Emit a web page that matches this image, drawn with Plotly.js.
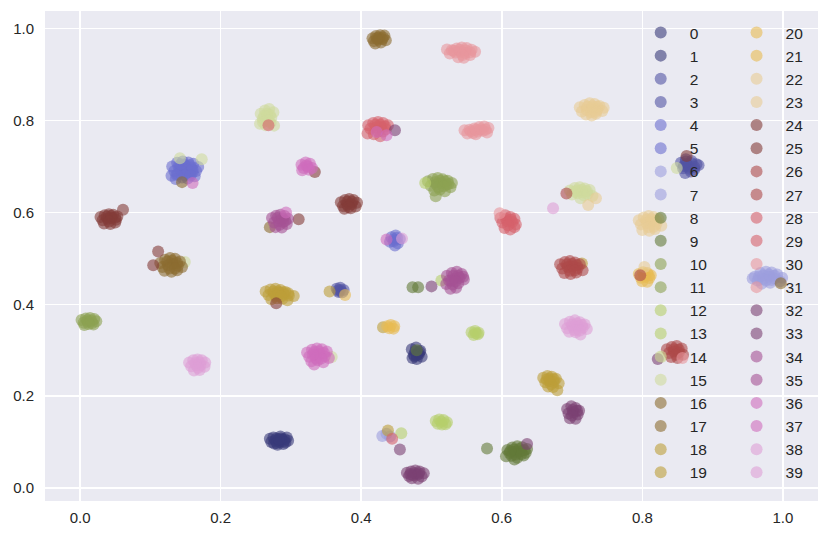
<!DOCTYPE html>
<html>
<head>
<meta charset="utf-8">
<script src="https://cdn.plot.ly/plotly-3.0.1.min.js"></script>
<style>html,body{margin:0;padding:0;background:#fff;}#chart{width:830px;height:539px;}</style>
</head>
<body>
<div id="chart"></div>
<script>
// tab20b palette, each colour used by two consecutive labels
const palette = ['#393b79','#5254a3','#6b6ecf','#9c9ede','#637939','#8ca252','#b5cf6b','#cedb9c',
                 '#8c6d31','#bd9e39','#e7ba52','#e7cb94','#843c39','#ad494a','#d6616b','#e7969c',
                 '#7b4173','#a55194','#ce6dbd','#de9ed6'];
const tickVals = [0.0, 0.2, 0.4, 0.6, 0.8, 1.0];
const tickText = ['0.0', '0.2', '0.4', '0.6', '0.8', '1.0'];

const X0 = [0.272,0.279,0.285,0.291,0.296,0.276,0.283,0.289,0.270,0.294,0.281,0.287,0.278,0.284,0.290,0.275,0.286,0.280,0.292,0.283];
const Y0 = [0.100,0.108,0.112,0.106,0.103,0.097,0.101,0.096,0.107,0.110,0.094,0.105,0.104,0.100,0.102,0.110,0.108,0.098,0.099,0.106];
const X1 = [0.472,0.478,0.484,0.475,0.481,0.486,0.473,0.479,0.477,0.482,0.476,0.483,0.479];
const Y1 = [0.302,0.306,0.299,0.290,0.294,0.286,0.283,0.281,0.298,0.291,0.287,0.296,0.289];
const X2 = [0.855,0.862,0.870,0.877,0.858,0.866,0.874,0.861,0.869,0.880,0.863,0.870,0.859,0.867,0.874,0.862];
const Y2 = [0.708,0.716,0.712,0.705,0.696,0.700,0.694,0.686,0.689,0.703,0.705,0.707,0.701,0.695,0.699,0.711];
const X3 = [0.365,0.370,0.375,0.368,0.373,0.370,0.367];
const Y3 = [0.434,0.436,0.431,0.427,0.426,0.431,0.430];
const X4 = [0.131,0.138,0.146,0.154,0.161,0.168,0.134,0.142,0.150,0.158,0.165,0.130,0.139,0.147,0.156,0.163,0.136,0.145,0.153,0.160,
            0.140,0.148,0.156,0.144,0.152,0.160,0.137,0.149,0.157,0.143];
const Y4 = [0.700,0.708,0.711,0.709,0.706,0.699,0.690,0.695,0.702,0.698,0.690,0.680,0.683,0.688,0.684,0.679,0.673,0.676,0.674,0.688,
            0.700,0.704,0.703,0.690,0.693,0.693,0.682,0.681,0.680,0.705];
const X5 = [0.443,0.449,0.455,0.446,0.452,0.441,0.448,0.447,0.451];
const Y5 = [0.546,0.550,0.542,0.537,0.533,0.536,0.528,0.541,0.545];
const X6 = [0.960,0.968,0.976,0.984,0.992,0.999,0.964,0.972,0.980,0.988,0.996,0.970,0.982,0.957,0.972,0.980,0.988,0.976,0.984,0.966];
const Y6 = [0.460,0.468,0.471,0.469,0.465,0.458,0.452,0.455,0.460,0.456,0.450,0.445,0.447,0.456,0.463,0.465,0.462,0.452,0.453,0.460];
const X7 = [0.430,0.436,0.441];
const Y7 = [0.113,0.118,0.112];
const X8 = [0.608,0.615,0.622,0.629,0.636,0.611,0.619,0.627,0.634,0.606,0.614,0.622,0.631,0.618,0.617,0.625,0.632,0.620,0.628,0.612];
const Y8 = [0.083,0.088,0.091,0.089,0.085,0.076,0.079,0.080,0.077,0.069,0.070,0.066,0.071,0.062,0.084,0.085,0.082,0.073,0.074,0.080];
const X9 = [0.473,0.481,0.579,0.479];
const Y9 = [0.437,0.437,0.086,0.300];
const X10 = [0.495,0.502,0.509,0.516,0.523,0.529,0.499,0.507,0.514,0.521,0.527,0.504,0.512,0.519,0.505,0.512,0.519,0.510,0.517,0.524];
const Y10 = [0.668,0.673,0.675,0.672,0.669,0.664,0.658,0.661,0.664,0.660,0.655,0.648,0.650,0.646,0.666,0.669,0.668,0.655,0.657,0.662];
const X11 = [0.002,0.008,0.014,0.020,0.023,0.005,0.011,0.017,0.006,0.019,0.506,0.010,0.016,0.012];
const Y11 = [0.366,0.369,0.370,0.368,0.363,0.360,0.362,0.359,0.355,0.356,0.635,0.365,0.364,0.357];
const X12 = [0.557,0.562,0.567,0.560,0.566,0.514,0.563];
const Y12 = [0.339,0.342,0.338,0.333,0.335,0.452,0.337];
const X13 = [0.506,0.511,0.517,0.522,0.509,0.515,0.520,0.491,0.457,0.514];
const Y13 = [0.146,0.149,0.148,0.143,0.140,0.138,0.139,0.664,0.119,0.144];
const X14 = [0.257,0.263,0.269,0.275,0.260,0.266,0.272,0.256,0.264,0.271,0.276,0.849,0.827,0.358,0.266,0.270,0.262,0.268,0.260];
const Y14 = [0.815,0.822,0.825,0.818,0.804,0.808,0.806,0.793,0.790,0.795,0.789,0.697,0.285,0.285,0.815,0.812,0.810,0.800,0.797];
const X15 = [0.697,0.704,0.711,0.718,0.725,0.700,0.708,0.715,0.722,0.729,0.712,0.142,0.173,0.149,0.707,0.714,0.721,0.704,0.717];
const Y15 = [0.648,0.653,0.655,0.652,0.649,0.639,0.642,0.644,0.640,0.636,0.631,0.718,0.716,0.492,0.648,0.649,0.646,0.645,0.637];
const X16 = [0.416,0.421,0.427,0.433,0.418,0.424,0.430,0.435,0.420,0.428,0.270,0.997,0.425,0.431,0.422];
const Y16 = [0.979,0.984,0.986,0.985,0.973,0.976,0.977,0.975,0.968,0.970,0.568,0.446,0.981,0.981,0.979];
const X17 = [0.114,0.121,0.128,0.135,0.142,0.117,0.125,0.132,0.139,0.145,0.120,0.130,0.138,0.145,0.124,0.131,0.138,0.127,0.135];
const Y17 = [0.490,0.497,0.501,0.499,0.493,0.481,0.485,0.488,0.484,0.481,0.473,0.471,0.474,0.666,0.493,0.495,0.490,0.478,0.478];
const X18 = [0.264,0.271,0.278,0.285,0.292,0.268,0.276,0.283,0.290,0.297,0.304,0.272,0.280,0.288,0.295,0.431,0.275,0.282,0.289,0.296,0.279,0.286];
const Y18 = [0.428,0.432,0.434,0.431,0.427,0.420,0.423,0.425,0.421,0.419,0.418,0.411,0.413,0.412,0.409,0.350,0.428,0.428,0.426,0.424,0.418,0.417];
const X19 = [0.659,0.665,0.671,0.677,0.662,0.668,0.674,0.681,0.666,0.673,0.679,0.355,0.438,0.714,0.668,0.674,0.670,0.664];
const Y19 = [0.240,0.244,0.242,0.238,0.230,0.233,0.231,0.228,0.221,0.220,0.213,0.428,0.125,0.489,0.238,0.237,0.226,0.236];
const X20 = [0.437,0.442,0.447,0.440,0.446];
const Y20 = [0.352,0.355,0.352,0.348,0.347];
const X21 = [0.795,0.801,0.807,0.812,0.798,0.804,0.810,0.800,0.807,0.377,0.803,0.809];
const Y21 = [0.466,0.470,0.468,0.463,0.458,0.460,0.457,0.450,0.449,0.420,0.464,0.463];
const X22 = [0.711,0.718,0.725,0.732,0.739,0.745,0.714,0.721,0.729,0.736,0.743,0.720,0.728,0.734,0.734,0.723,0.722,0.729,0.736,0.727,0.734];
const Y22 = [0.829,0.834,0.838,0.836,0.832,0.828,0.820,0.823,0.826,0.824,0.821,0.813,0.811,0.815,0.631,0.616,0.830,0.831,0.830,0.818,0.819];
const X23 = [0.795,0.802,0.809,0.816,0.823,0.798,0.806,0.813,0.820,0.827,0.800,0.810,0.818,0.803,0.806,0.813,0.820,0.809,0.816];
const Y23 = [0.583,0.589,0.592,0.590,0.586,0.574,0.577,0.579,0.575,0.571,0.562,0.560,0.564,0.481,0.584,0.585,0.582,0.568,0.569];
const X24 = [0.029,0.035,0.041,0.047,0.053,0.032,0.039,0.045,0.051,0.034,0.043,0.050,0.311,0.111,0.104,0.279,0.038,0.044,0.050,0.041];
const Y24 = [0.590,0.594,0.596,0.595,0.591,0.583,0.586,0.588,0.584,0.576,0.575,0.578,0.585,0.515,0.485,0.402,0.591,0.592,0.589,0.580];
const X25 = [0.371,0.377,0.383,0.389,0.394,0.374,0.380,0.386,0.392,0.376,0.385,0.334,0.061,0.863,0.380,0.387,0.382];
const Y25 = [0.622,0.627,0.629,0.627,0.621,0.614,0.617,0.618,0.613,0.608,0.609,0.688,0.606,0.723,0.623,0.623,0.612];
const X26 = [0.683,0.690,0.697,0.704,0.711,0.686,0.694,0.701,0.708,0.715,0.689,0.698,0.706,0.797,0.693,0.700,0.707,0.697,0.704];
const Y26 = [0.487,0.492,0.494,0.491,0.487,0.478,0.481,0.483,0.479,0.474,0.468,0.466,0.469,0.463,0.487,0.488,0.485,0.473,0.474];
const X27 = [0.835,0.842,0.849,0.856,0.838,0.845,0.852,0.858,0.841,0.850,0.692,0.845,0.852,0.848];
const Y27 = [0.302,0.307,0.309,0.304,0.294,0.297,0.295,0.290,0.285,0.283,0.641,0.302,0.301,0.290];
const X28 = [0.410,0.417,0.424,0.431,0.438,0.413,0.421,0.428,0.435,0.409,0.418,0.427,0.268,0.444,0.420,0.427,0.434,0.424,0.431];
const Y28 = [0.790,0.795,0.797,0.795,0.790,0.782,0.785,0.786,0.781,0.772,0.770,0.766,0.790,0.107,0.791,0.791,0.787,0.777,0.776];
const X29 = [0.598,0.605,0.612,0.618,0.601,0.608,0.615,0.620,0.604,0.612,0.618,0.606,0.613,0.609];
const Y29 = [0.588,0.594,0.590,0.586,0.578,0.581,0.579,0.574,0.566,0.563,0.568,0.586,0.584,0.572];
const X30 = [0.522,0.529,0.536,0.543,0.550,0.557,0.562,0.526,0.534,0.541,0.548,0.555,0.538,0.546,0.597,0.532,0.540,0.548,0.555,0.544];
const Y30 = [0.955,0.953,0.957,0.959,0.958,0.954,0.950,0.946,0.948,0.950,0.947,0.943,0.938,0.937,0.598,0.952,0.954,0.953,0.949,0.943];
const X31 = [0.547,0.554,0.561,0.568,0.575,0.581,0.551,0.559,0.566,0.573,0.579,0.563,0.857,0.556,0.563,0.570,0.577];
const Y31 = [0.779,0.780,0.783,0.786,0.787,0.784,0.772,0.773,0.776,0.778,0.774,0.770,0.283,0.777,0.780,0.781,0.780];
const X32 = [0.465,0.471,0.477,0.483,0.489,0.468,0.474,0.480,0.486,0.472,0.481,0.500,0.636,0.476,0.482,0.470];
const Y32 = [0.033,0.036,0.038,0.036,0.032,0.026,0.028,0.029,0.025,0.021,0.020,0.439,0.096,0.032,0.032,0.030];
const X33 = [0.693,0.699,0.705,0.710,0.695,0.702,0.708,0.697,0.705,0.448,0.822,0.455,0.701,0.707,0.700];
const Y33 = [0.172,0.178,0.174,0.168,0.162,0.165,0.160,0.152,0.151,0.779,0.281,0.084,0.170,0.168,0.158];
const X34 = [0.273,0.279,0.285,0.291,0.296,0.276,0.283,0.289,0.294,0.278,0.287,0.281,0.288,0.284,0.292];
const Y34 = [0.588,0.593,0.595,0.592,0.586,0.578,0.581,0.579,0.575,0.568,0.567,0.588,0.587,0.573,0.582];
const X35 = [0.522,0.529,0.536,0.543,0.525,0.533,0.540,0.546,0.521,0.530,0.538,0.527,0.535,0.531,0.538,0.545,0.534,0.528];
const Y35 = [0.462,0.468,0.471,0.466,0.452,0.455,0.458,0.454,0.444,0.443,0.446,0.434,0.436,0.462,0.462,0.460,0.450,0.451];
const X36 = [0.315,0.321,0.327,0.318,0.324,0.330,0.316,0.326,0.422,0.293,0.322];
const Y36 = [0.704,0.709,0.706,0.697,0.700,0.697,0.692,0.693,0.775,0.600,0.702];
const X37 = [0.323,0.330,0.337,0.344,0.351,0.326,0.334,0.341,0.348,0.354,0.329,0.338,0.346,0.333,0.160,0.436,0.436,0.333,0.340,0.347,0.336,0.343,0.331];
const Y37 = [0.295,0.301,0.304,0.302,0.297,0.286,0.289,0.291,0.287,0.283,0.276,0.278,0.274,0.269,0.664,0.768,0.541,0.296,0.297,0.294,0.282,0.282,0.290];
const X38 = [0.155,0.161,0.167,0.173,0.178,0.158,0.165,0.171,0.177,0.162,0.170,0.673,0.164,0.170,0.168];
const Y38 = [0.273,0.278,0.280,0.278,0.273,0.265,0.268,0.267,0.264,0.256,0.257,0.609,0.272,0.273,0.262];
const X39 = [0.690,0.697,0.704,0.711,0.718,0.693,0.701,0.708,0.715,0.721,0.696,0.705,0.712,0.458,0.700,0.707,0.714,0.704,0.711];
const Y39 = [0.357,0.362,0.365,0.361,0.356,0.348,0.351,0.353,0.349,0.346,0.340,0.339,0.334,0.543,0.356,0.358,0.355,0.344,0.343];

const XS = [X0,X1,X2,X3,X4,X5,X6,X7,X8,X9,X10,X11,X12,X13,X14,X15,X16,X17,X18,X19,
            X20,X21,X22,X23,X24,X25,X26,X27,X28,X29,X30,X31,X32,X33,X34,X35,X36,X37,X38,X39];
const YS = [Y0,Y1,Y2,Y3,Y4,Y5,Y6,Y7,Y8,Y9,Y10,Y11,Y12,Y13,Y14,Y15,Y16,Y17,Y18,Y19,
            Y20,Y21,Y22,Y23,Y24,Y25,Y26,Y27,Y28,Y29,Y30,Y31,Y32,Y33,Y34,Y35,Y36,Y37,Y38,Y39];

const traces = XS.map((xs, i) => ({
  type: 'scatter', mode: 'markers', name: String(i),
  x: xs, y: YS[i],
  legend: i < 20 ? 'legend' : 'legend2',
  marker: {size: 12, color: palette[Math.floor(i / 2)], opacity: 0.6, line: {width: 0}},
  hoverinfo: 'skip'
}));

const FONT = '"Liberation Sans", Arial, sans-serif';
const legendCommon = {
  bgcolor: 'rgba(0,0,0,0)', borderwidth: 0, itemwidth: 48,
  font: {family: FONT, size: 15.5, color: '#262626'},
  xanchor: 'left', yanchor: 'top', tracegroupgap: 0, itemclick: false
};
const layout = {
  width: 830, height: 539,
  margin: {l: 45, r: 12, t: 11, b: 38},
  paper_bgcolor: '#ffffff', plot_bgcolor: '#EAEAF2',
  font: {family: FONT, size: 15, color: '#262626'},
  xaxis: {range: [-0.05, 1.05], tickvals: tickVals, ticktext: tickText,
          showgrid: true, gridcolor: '#ffffff', gridwidth: 1.5, zeroline: false, showline: false,
          ticks: '', ticklabelstandoff: 6},
  yaxis: {range: [-0.0283, 1.0386], tickvals: tickVals, ticktext: tickText,
          showgrid: true, gridcolor: '#ffffff', gridwidth: 1.5, zeroline: false, showline: false,
          ticks: '', ticklabelstandoff: 10},
  showlegend: true,
  legend: Object.assign({x: 0.759, y: 0.99}, legendCommon),
  legend2: Object.assign({x: 0.883, y: 0.99}, legendCommon)
};
Plotly.newPlot('chart', traces, layout, {displayModeBar: false, staticPlot: true});
</script>
</body>
</html>
